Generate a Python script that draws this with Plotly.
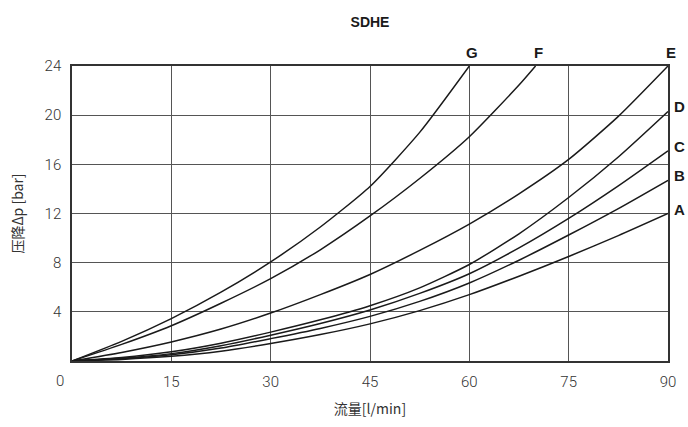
import plotly.graph_objects as go

flow = [0, 7.5, 15, 22.5, 30, 37.5, 45, 52.5, 60, 67.5, 75, 82.5, 90]
curve_A = [0, 0.13, 0.38, 0.8, 1.42, 2.15, 3.02, 4.1, 5.4, 6.9, 8.5, 10.2, 12.0]
curve_B = [0, 0.18, 0.5, 1.05, 1.82, 2.65, 3.63, 4.85, 6.35, 8.2, 10.25, 12.4, 14.7]
curve_C = [0, 0.22, 0.6, 1.25, 2.1, 3.05, 4.15, 5.5, 7.1, 9.2, 11.6, 14.25, 17.1]
curve_D = [0, 0.28, 0.75, 1.45, 2.35, 3.35, 4.5, 5.95, 7.85, 10.35, 13.3, 16.6, 20.3]
curve_E = [0, 0.7, 1.55, 2.6, 3.9, 5.4, 7.04, 9.0, 11.14, 13.6, 16.4, 19.9, 24.0]
flow_F = [0, 7.5, 15, 22.5, 30, 37.5, 45, 52.5, 60, 67.5, 70]
curve_F = [0, 1.35, 2.87, 4.7, 6.7, 9.05, 11.8, 14.85, 18.25, 22.45, 24.0]
flow_G = [0, 7.5, 15, 22.5, 30, 37.5, 45, 52.5, 60]
curve_G = [0, 1.6, 3.45, 5.6, 8.06, 10.9, 14.2, 18.6, 24.0]

x_ticks = [15, 30, 45, 60, 75, 90]
y_ticks = [4, 8, 12, 16, 20, 24]

series = [
    ("A", flow, curve_A), ("B", flow, curve_B), ("C", flow, curve_C),
    ("D", flow, curve_D), ("E", flow, curve_E), ("F", flow_F, curve_F),
    ("G", flow_G, curve_G),
]

fig = go.Figure()
for name, xs, ys in series:
    fig.add_trace(go.Scatter(x=xs, y=ys, mode="lines", name=name,
                             line=dict(color="#1a1a1a", width=1.5, shape="spline", smoothing=0.6),
                             showlegend=False, hoverinfo="skip"))

lab_font = dict(family="Liberation Sans, Arial, sans-serif", size=15, color="#1a1a1a", weight="bold")
# right-side labels
for name, xs, ys in series[:4]:
    fig.add_annotation(x=xs[-1], y=ys[-1], text=name, showarrow=False, xanchor="left",
                       yanchor="bottom", xshift=4, yshift=-6, font=lab_font)
# top labels
for name, xs, ys in series[4:]:
    fig.add_annotation(x=xs[-1], y=ys[-1], text=name, showarrow=False, xanchor="center",
                       yanchor="bottom", xshift=3, yshift=3, font=lab_font)

tick_font = dict(family="Roboto, sans-serif", size=15, color="#333333", weight=300)
fig.add_annotation(x=0, y=0, xref="x", yref="y", text="0", showarrow=False,
                   xanchor="center", yanchor="top", xshift=-12, yshift=-9, font=tick_font)

fig.update_layout(
    width=688, height=427,
    margin=dict(l=72, r=20, t=66, b=63),
    plot_bgcolor="white", paper_bgcolor="white",
    title=dict(text="<b>SDHE</b>", x=370/688, xanchor="center", y=1 - 22/427, yanchor="middle",
               font=dict(family="Liberation Sans, Arial, sans-serif", size=14, color="#1a1a1a")),
    xaxis=dict(range=[0, 90], tickvals=x_ticks, ticktext=[str(v) for v in x_ticks],
               showgrid=True, gridcolor="#555555", gridwidth=1,
               showline=True, linecolor="#333333", linewidth=1.5, mirror=True,
               zeroline=False, ticks="", tickfont=tick_font, ticklabelstandoff=6,
               title=dict(text="流量[l/min]", standoff=14,
                          font=dict(family="Noto Sans CJK SC, sans-serif", size=14, color="#333333"))),
    yaxis=dict(range=[0, 24], tickvals=y_ticks, ticktext=[str(v) for v in y_ticks],
               showgrid=True, gridcolor="#555555", gridwidth=1,
               showline=True, linecolor="#333333", linewidth=1.5, mirror=True,
               zeroline=False, ticks="", tickfont=tick_font, ticklabelstandoff=6,
               title=dict(text="压降Δp [bar]", standoff=18,
                          font=dict(family="Noto Sans CJK SC, sans-serif", size=14, color="#333333"))),
)

fig.write_html("out.html", config={"displayModeBar": False},
               post_script="document.body.style.margin='0';document.body.style.padding='0';")
